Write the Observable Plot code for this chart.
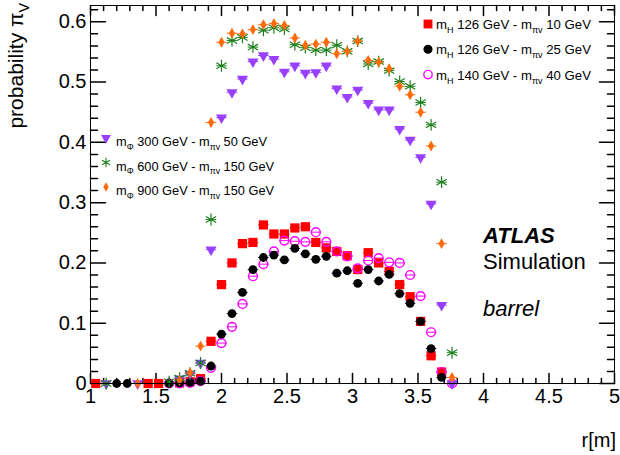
<!DOCTYPE html>
<html><head><meta charset="utf-8">
<script src="https://cdn.jsdelivr.net/npm/d3@7"></script>
<script src="https://cdn.jsdelivr.net/npm/@observablehq/plot@0.6"></script>
<style>
html,body{margin:0;padding:0;background:#fff;overflow:hidden}
</style></head><body><div id="chart"></div>
<script>
// ---- data ----
const rBins = [1.04,1.12,1.20,1.28,1.36,1.44,1.52,1.60,1.68,1.76,1.84,1.92,2.00,2.08,2.16,2.24,2.32,2.40,2.48,2.56,2.64,2.72,2.80,2.88,2.96,3.04,3.12,3.20,3.28,3.36,3.44,3.52,3.60,3.68,3.76];
const mH126_mpv10 = [0,null,null,null,null,0,0,null,0.001,0.003,0.008,0.070,0.164,0.200,0.232,0.234,0.263,0.248,0.248,0.258,0.260,0.234,0.225,0.219,0.212,0.189,0.217,0.200,0.186,0.164,0.144,0.103,0.046,0.019,null];
const mH126_mpv25 = [null,null,0,0,null,null,null,0,0.001,0.002,0.004,0.029,0.082,0.116,0.151,0.189,0.209,0.213,0.205,0.224,0.215,0.206,0.211,0.183,0.187,0.166,0.189,0.170,0.181,0.149,0.133,0.103,0.058,0.010,null];
const mH140_mpv40 = [null,null,null,null,null,null,null,0,0,0.001,0.004,0.026,0.067,0.094,0.132,0.178,0.198,0.219,0.237,0.236,0.235,0.251,0.235,0.219,0.211,0.191,0.204,0.208,0.201,0.200,0.180,0.145,0.085,0.019,0];
const mPhi300_mpv50 = [null,0,null,null,0,null,null,null,0.008,0.016,0.034,0.222,0.441,0.483,0.505,0.534,0.544,0.538,0.517,0.527,0.515,0.516,0.527,0.489,0.475,0.487,0.465,0.454,0.454,0.422,0.404,0.375,0.298,0.130,0];
const mPhi600_mpv150 = [null,0,null,null,null,null,null,0.003,0.009,0.017,0.034,0.272,0.527,0.569,0.574,0.558,0.586,0.590,0.588,0.562,0.557,0.553,0.553,0.561,0.551,0.568,0.530,0.534,0.519,0.501,0.493,0.466,0.429,0.334,0.051];
const mPhi900_mpv150 = [null,null,null,null,0,null,null,null,0.005,0.018,0.062,0.433,0.566,0.581,0.580,0.587,0.595,0.597,0.594,0.573,0.561,0.563,0.566,0.547,0.551,0.568,0.536,0.533,0.522,0.493,0.479,0.450,0.394,0.232,0.010];

const xTickValues = [1,1.5,2,2.5,3,3.5,4,4.5,5];
const xTickLabels = ["1","1.5","2","2.5","3","3.5","4","4.5","5"];
const yTickValues = [0,0.1,0.2,0.3,0.4,0.5,0.6];
const yTickLabels = ["0","0.1","0.2","0.3","0.4","0.5","0.6"];

const legendRight = [
  [["m"],["H",1],[" 126 GeV - m"],["πv",1],[" 10 GeV"]],
  [["m"],["H",1],[" 126 GeV - m"],["πv",1],[" 25 GeV"]],
  [["m"],["H",1],[" 140 GeV - m"],["πv",1],[" 40 GeV"]]
];
const legendLeft = [
  [["m"],["Φ",1],[" 300 GeV - m"],["πv",1],[" 50 GeV"]],
  [["m"],["Φ",1],[" 600 GeV - m"],["πv",1],[" 150 GeV"]],
  [["m"],["Φ",1],[" 900 GeV - m"],["πv",1],[" 150 GeV"]]
];
const xTitle = "r[m]";
const yTitle = [["probability π"],["V",1]];

// ---- styling ----
const FONT = "'Liberation Sans', Arial, Helvetica, sans-serif";
const invTriangle = {draw(ctx, size){const y = Math.sqrt(size/(Math.sqrt(3)*3)); ctx.moveTo(0,2*y); ctx.lineTo(-Math.sqrt(3)*y,-y); ctx.lineTo(Math.sqrt(3)*y,-y); ctx.closePath();}};
const series = [
  {values: mH126_mpv10, symbol: "square", r: 5.2, fill: "#ff0000", stroke: "none", sw: 0, bar: "#ff0000"},
  {values: mH140_mpv40, symbol: "circle", r: 4.4, fill: "none", stroke: "#ff00ff", sw: 1.4, bar: "#ff00ff"},
  {values: mH126_mpv25, symbol: "circle", r: 4.4, fill: "#000000", stroke: "none", sw: 0, bar: "#1c1c8c"},
  {values: mPhi300_mpv50, symbol: invTriangle, r: 4.1, fill: "#9940ff", stroke: "none", sw: 0, bar: "#9940ff"},
  {values: mPhi600_mpv150, symbol: "asterisk", r: 5.6, fill: "none", stroke: "#1a7f1a", sw: 1.2, bar: "#1a7f1a"},
  {values: mPhi900_mpv150, symbol: "diamond", r: 3.3, fill: "#ff6a0a", stroke: "none", sw: 0, bar: "#ff6a0a"}
];
const rowsOf = s => rBins.map((r, i) => ({r, v: s.values[i]})).filter(d => d.v != null);

const tickShape = {draw(ctx, l){ctx.moveTo(0,0); ctx.lineTo(0,-l);}};
const xMinor = d3.range(1, 5.001, 0.1).map(v => +v.toFixed(2)).filter(v => !xTickValues.some(t => Math.abs(t - v) < 1e-6));
const yMinor = d3.range(0, 0.621, 0.02).map(v => +v.toFixed(2)).filter(v => !yTickValues.some(t => Math.abs(t - v) < 1e-6));
const tickMarks = (vals, len, isX) => isX ? [
  Plot.vector(vals, {x: d => d, frameAnchor: "bottom", length: len, rotate: 0, anchor: "start", shape: tickShape, stroke: "black"}),
  Plot.vector(vals, {x: d => d, frameAnchor: "top", length: len, rotate: 180, anchor: "start", shape: tickShape, stroke: "black"})
] : [
  Plot.vector(vals, {y: d => d, frameAnchor: "left", length: len, rotate: 90, anchor: "start", shape: tickShape, stroke: "black"}),
  Plot.vector(vals, {y: d => d, frameAnchor: "right", length: len, rotate: -90, anchor: "start", shape: tickShape, stroke: "black"})
];

const marks = [];
for (const s of series) {
  marks.push(Plot.link(rowsOf(s), {x1: d => d.r - 0.04, x2: d => d.r + 0.04, y1: "v", y2: "v", stroke: s.bar, strokeWidth: 1}));
}
for (const s of series) {
  marks.push(Plot.dot(rowsOf(s), {x: "r", y: "v", symbol: s.symbol, r: s.r, fill: s.fill, stroke: s.stroke, strokeWidth: s.sw}));
}

const plot = Plot.plot({
  width: 620, height: 455,
  marginLeft: 90, marginRight: 6, marginTop: 5, marginBottom: 72,
  x: {domain: [1, 5]},
  y: {domain: [0, 0.627]},
  style: {fontFamily: FONT, fontSize: "20px", color: "black", background: "white", overflow: "visible"},
  marks: [
    ...tickMarks(xMinor, 5, true), ...tickMarks(xTickValues, 10, true),
    ...tickMarks(yMinor, 7, false), ...tickMarks(yTickValues, 15, false),
    Plot.axisX(xTickValues, {tickSize: 0, tickPadding: 5, label: null, fontSize: 20, tickFormat: d => xTickLabels[xTickValues.indexOf(d)]}),
    Plot.axisY(yTickValues, {tickSize: 0, tickPadding: 4, label: null, fontSize: 20, tickFormat: d => yTickLabels[yTickValues.indexOf(d)]}),
    ...marks,
    Plot.frame({stroke: "black", strokeWidth: 1})
  ]
});
document.getElementById("chart").appendChild(plot);

// ---- annotations ----
const svg = d3.select(plot);
function richText(parent, parts, x, y, size, attrs = {}) {
  const t = parent.append("text").attr("x", x).attr("y", y).attr("font-size", size).attr("font-family", FONT).attr("fill", "black").attr("text-anchor", "start");
  for (const [k, v] of Object.entries(attrs)) t.attr(k, v);
  let sub = false;
  for (const [str, isSub] of parts) {
    const ts = t.append("tspan").text(str);
    if (isSub && !sub) { ts.attr("dy", size * 0.3).attr("font-size", size * 0.68); sub = true; }
    else if (!isSub && sub) { ts.attr("dy", -size * 0.3); sub = false; }
  }
  return t;
}
const g = svg.append("g").attr("text-anchor", "start");
const sym = (type, size) => d3.symbol(type, size)();
// right legend
const rightSyms = [
  {path: sym(d3.symbolSquare, 78), fill: "#ff0000", stroke: "none", sw: 0},
  {path: sym(d3.symbolCircle, 64), fill: "#000000", stroke: "none", sw: 0},
  {path: sym(d3.symbolCircle, 55), fill: "none", stroke: "#ff00ff", sw: 1.4}
];
legendRight.forEach((parts, i) => {
  const cy = 24 + i * 25.3;
  const s = rightSyms[i];
  g.append("path").attr("d", s.path).attr("transform", `translate(428,${cy})`).attr("fill", s.fill).attr("stroke", s.stroke).attr("stroke-width", s.sw);
  richText(g, parts, 436, cy + 5, 13.2);
});
// left legend
const leftSyms = [
  {path: d3.symbol(invTriangle, 44)(), fill: "#9940ff", stroke: "none", sw: 0},
  {path: sym(d3.symbolAsterisk, 60), fill: "none", stroke: "#1a7f1a", sw: 1.1},
  {path: sym(d3.symbolDiamond, 26), fill: "#ff6a0a", stroke: "none", sw: 0}
];
legendLeft.forEach((parts, i) => {
  const cy = 138 + i * 24.5;
  const s = leftSyms[i];
  g.append("path").attr("d", s.path).attr("transform", `translate(106,${cy})`).attr("fill", s.fill).attr("stroke", s.stroke).attr("stroke-width", s.sw);
  richText(g, parts, 116, cy + 8, 12.8);
});
// ATLAS labels
const txt = (x, y, s, size, extra = {}) => {
  const t = g.append("text").attr("x", x).attr("y", y).attr("text-anchor", "start").attr("font-family", FONT).attr("font-size", size).attr("fill", "black").text(s);
  for (const [k, v] of Object.entries(extra)) t.attr(k, v);
  return t;
};
txt(483, 243, "ATLAS", 22, {"font-weight": "bold", "font-style": "italic"});
txt(483, 269, "Simulation", 22);
txt(483, 316, "barrel", 22, {"font-style": "italic"});
// axis titles
txt(616, 447, xTitle, 20, {"text-anchor": "end"});
richText(g, yTitle, 0, 0, 21, {"text-anchor": "end", "transform": "translate(23,3) rotate(-90)"});
</script></body></html>
